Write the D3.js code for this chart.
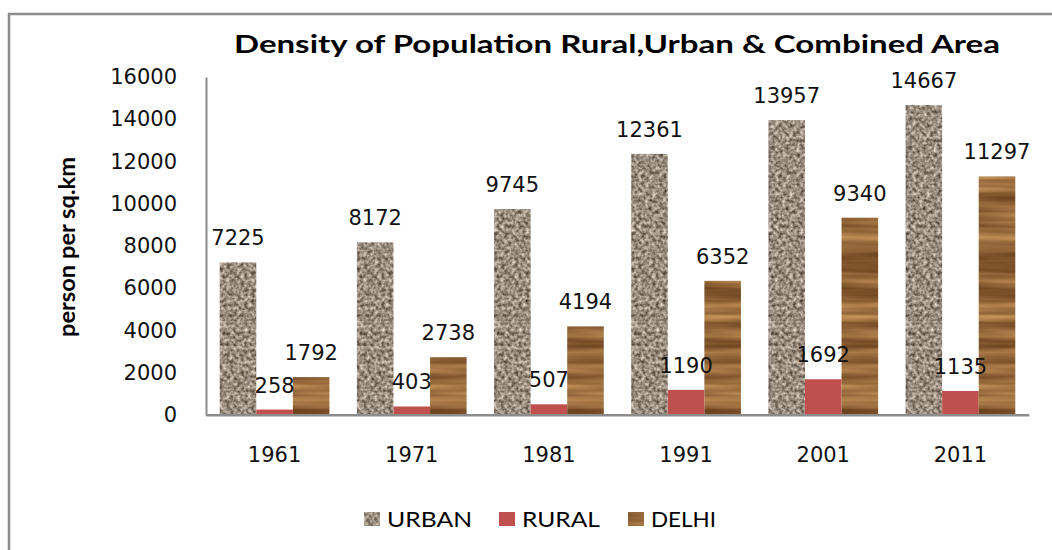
<!DOCTYPE html>
<html>
<head>
<meta charset="utf-8">
<script src="https://cdn.jsdelivr.net/npm/d3@7"></script>
<style>
  body { margin: 0; background: #fff; }
  svg { display: block; }
</style>
</head>
<body>
<svg id="chart" width="1052" height="550"></svg>
<script>
// data
const years = ["1961", "1971", "1981", "1991", "2001", "2011"];
const seriesNames = ["URBAN", "RURAL", "DELHI"];
const urban = [7225, 8172, 9745, 12361, 13957, 14667];
const rural = [258, 403, 507, 1190, 1692, 1135];
const delhi = [1792, 2738, 4194, 6352, 9340, 11297];
const yTicks = [0, 2000, 4000, 6000, 8000, 10000, 12000, 14000, 16000];

const values = { URBAN: urban, RURAL: rural, DELHI: delhi };
const fills = { URBAN: "url(#granite)", RURAL: "#c0504d", DELHI: "url(#wood)" };

const svg = d3.select("#chart");
const plot = { left: 206, right: 1029, top: 77, bottom: 415 };

// textures
const defs = svg.append("defs");

const granite = defs.append("filter").attr("id", "granite")
  .attr("x", 0).attr("y", 0).attr("width", 1).attr("height", 1)
  .attr("color-interpolation-filters", "sRGB");
granite.append("feTurbulence").attr("type", "fractalNoise")
  .attr("baseFrequency", 0.28).attr("numOctaves", 2).attr("seed", 7).attr("result", "n");
granite.append("feColorMatrix").attr("in", "n").attr("type", "matrix")
  .attr("values", "0.9 0 0 0 0.15  0.9 0 0 0 0.10  0.9 0 0 0 0.05  0 0 0 0 1")
  .attr("result", "c");
granite.append("feComposite").attr("in", "c").attr("in2", "SourceGraphic").attr("operator", "in");

const wood = defs.append("filter").attr("id", "wood")
  .attr("x", 0).attr("y", 0).attr("width", 1).attr("height", 1)
  .attr("color-interpolation-filters", "sRGB");
wood.append("feTurbulence").attr("type", "fractalNoise")
  .attr("baseFrequency", "0.006 0.1").attr("numOctaves", 3).attr("seed", 3).attr("result", "n");
wood.append("feColorMatrix").attr("in", "n").attr("type", "matrix")
  .attr("values", "0.6 0 0 0 0.27  0.55 0 0 0 0.12  0.4 0 0 0 0.02  0 0 0 0 1")
  .attr("result", "c");
wood.append("feComposite").attr("in", "c").attr("in2", "SourceGraphic").attr("operator", "in");

// outer frame
svg.append("rect")
  .attr("x", 9).attr("y", 14).attr("width", 1100).attr("height", 600)
  .attr("fill", "none").attr("stroke", "#8c8c8c").attr("stroke-width", 2.5);

// scales
const x0 = d3.scaleBand().domain(years).range([plot.left, plot.right])
  .paddingInner(0.2).paddingOuter(0.1);
const x1 = d3.scaleBand().domain(seriesNames).range([0, x0.bandwidth()]);
const y = d3.scaleLinear().domain([0, 16000]).range([plot.bottom, plot.top]);

// axes
const yAxis = svg.append("g").attr("transform", `translate(${plot.left},0)`)
  .call(d3.axisLeft(y).tickValues(yTicks).tickFormat(d3.format("d")).tickSize(0).tickPadding(29));
yAxis.select(".domain").attr("stroke", "#8c8c8c").attr("stroke-width", 2);
yAxis.selectAll("text").attr("font-family", "DejaVu Sans").attr("font-size", 21)
  .attr("fill", "#111");

const xAxis = svg.append("g").attr("transform", `translate(0,${plot.bottom})`)
  .call(d3.axisBottom(x0).tickSize(0).tickPadding(32));
xAxis.select(".domain").attr("stroke", "#8c8c8c").attr("stroke-width", 2);
xAxis.selectAll("text").attr("font-family", "DejaVu Sans").attr("font-size", 21)
  .attr("fill", "#111");

// bars
const rows = years.map((yr, i) => ({
  year: yr,
  items: seriesNames.map(s => ({ key: s, value: values[s][i] }))
}));

const groups = svg.append("g").selectAll("g").data(rows).join("g")
  .attr("transform", d => `translate(${x0(d.year)},0)`);

groups.selectAll("rect").data(d => d.items).join("rect")
  .attr("x", d => x1(d.key))
  .attr("y", d => y(d.value))
  .attr("width", x1.bandwidth())
  .attr("height", d => y(0) - y(d.value))
  .attr("fill", d => d.key === "RURAL" ? fills.RURAL : "#a89a8c")
  .attr("filter", d => d.key === "RURAL" ? null : fills[d.key]);

groups.selectAll("text").data(d => d.items).join("text")
  .attr("x", d => x1(d.key) + x1.bandwidth() / 2)
  .attr("y", d => y(d.value) - 17)
  .attr("text-anchor", "middle")
  .attr("font-family", "DejaVu Sans").attr("font-size", 21).attr("fill", "#111")
  .text(d => d.value);

// axis line drawn again above the bars
svg.append("line").attr("x1", plot.left).attr("x2", plot.right)
  .attr("y1", plot.bottom).attr("y2", plot.bottom)
  .attr("stroke", "#8c8c8c").attr("stroke-width", 2);

// title
svg.append("text")
  .attr("x", 234).attr("y", 53)
  .attr("font-family", "Lato").attr("font-weight", "bold").attr("font-size", 25)
  .attr("textLength", 766).attr("lengthAdjust", "spacingAndGlyphs")
  .attr("fill", "#000")
  .text("Density of Population Rural,Urban & Combined Area");

// y title
svg.append("text")
  .attr("transform", "translate(75,247) rotate(-90)")
  .attr("text-anchor", "middle")
  .attr("font-family", "Lato").attr("font-weight", "bold").attr("font-size", 23)
  .attr("textLength", 180).attr("lengthAdjust", "spacingAndGlyphs")
  .attr("fill", "#000")
  .text("person per sq.km");

// legend
const legendX = [364, 499, 628];
const legendW = [85, 78, 65];
const legend = svg.append("g").selectAll("g").data(seriesNames).join("g")
  .attr("transform", (d, i) => `translate(${legendX[i]},512)`);
legend.append("rect")
  .attr("width", 16).attr("height", 14)
  .attr("fill", d => d === "RURAL" ? fills.RURAL : "#a89a8c")
  .attr("filter", d => d === "RURAL" ? null : fills[d]);
legend.append("text")
  .attr("x", 23).attr("y", 15)
  .attr("font-family", "Lato").attr("font-size", 21)
  .attr("textLength", (d, i) => legendW[i]).attr("lengthAdjust", "spacingAndGlyphs")
  .attr("fill", "#000")
  .text(d => d);
</script>
</body>
</html>
